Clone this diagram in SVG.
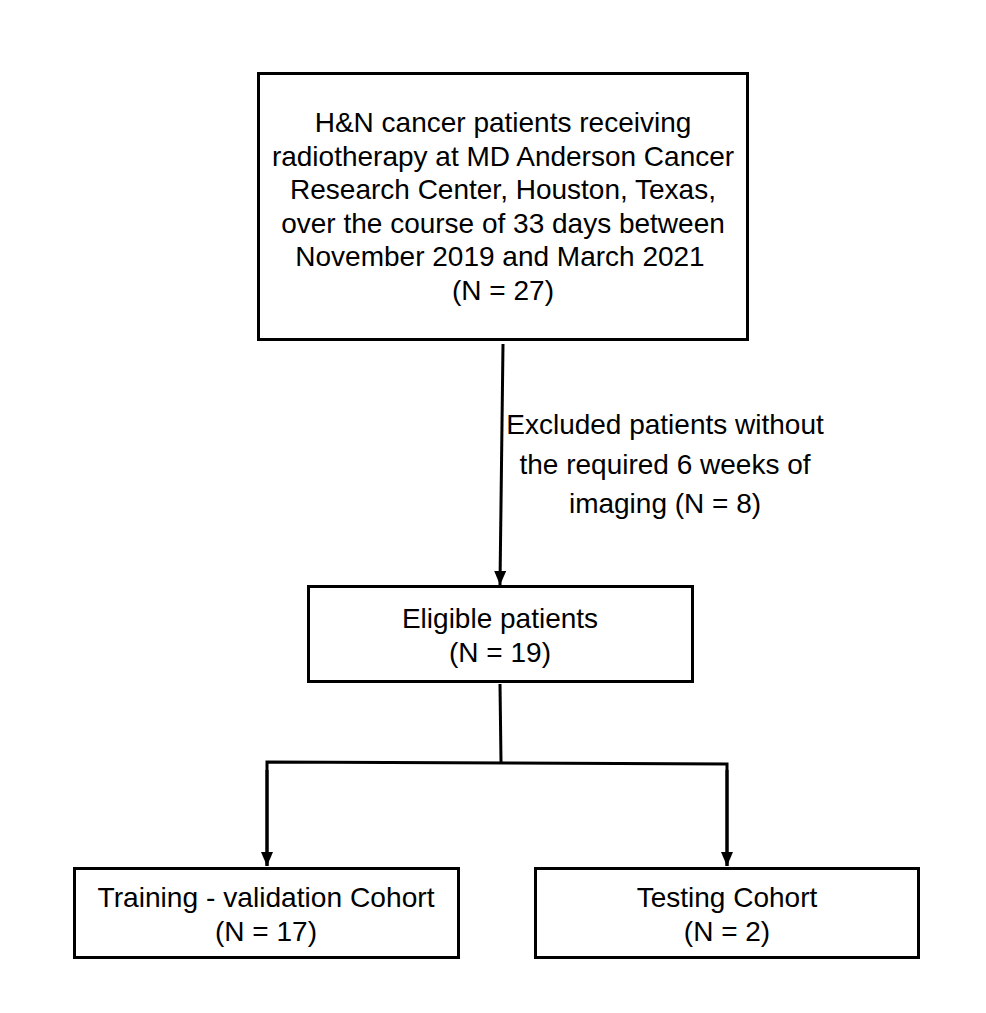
<svg xmlns="http://www.w3.org/2000/svg" width="986" height="1013" viewBox="0 0 986 1013">
<style>
.box{fill:#fff;stroke:#000;stroke-width:3}
.t{font-family:"Liberation Sans",Arial,sans-serif;font-size:28px;fill:#000;text-anchor:middle}
.c{stroke:#000;stroke-width:3;fill:none}
</style>
<defs>
<marker id="ah" viewBox="0 0 14 12" refX="14" refY="6" markerWidth="14" markerHeight="12" markerUnits="userSpaceOnUse" orient="auto">
<path d="M0,0 L14,6 L0,12 z" fill="#000"/>
</marker>
</defs>
<rect width="986" height="1013" fill="#fff"/>
<g id="connectors">
<line class="c" x1="503" y1="344" x2="500" y2="585" marker-end="url(#ah)"/>
<line class="c" x1="500" y1="684" x2="501" y2="762"/>
<polyline class="c" points="267,866 267,762 727,764 727,866"/>
<line class="c" x1="267" y1="770" x2="267" y2="866" marker-end="url(#ah)"/>
<line class="c" x1="727" y1="770" x2="727" y2="866" marker-end="url(#ah)"/>
<g id="label-excluded">
<text class="t" x="665" y="434">Excluded patients without</text>
<text class="t" x="665" y="474">the required 6 weeks of</text>
<text class="t" x="665" y="513">imaging (N = 8)</text>
</g>
</g>
<g id="node-source">
<rect class="box" x="258.5" y="73.5" width="489" height="266"/>
<text class="t" x="503" y="132">H&amp;N cancer patients receiving</text>
<text class="t" x="503" y="166">radiotherapy at MD Anderson Cancer</text>
<text class="t" x="503" y="199">Research Center, Houston, Texas,</text>
<text class="t" x="503" y="233">over the course of 33 days between</text>
<text class="t" x="500" y="266">November 2019 and March 2021</text>
<text class="t" x="503" y="300">(N = 27)</text>
</g>
<g id="node-eligible">
<rect class="box" x="308.5" y="586.5" width="384" height="95"/>
<text class="t" x="500" y="628">Eligible patients</text>
<text class="t" x="500" y="662">(N = 19)</text>
</g>
<g id="node-training">
<rect class="box" x="74.5" y="868.5" width="384" height="89"/>
<text class="t" x="266" y="907" textLength="337" lengthAdjust="spacingAndGlyphs">Training - validation Cohort</text>
<text class="t" x="266" y="941">(N = 17)</text>
</g>
<g id="node-testing">
<rect class="box" x="535.5" y="868.5" width="383" height="89"/>
<text class="t" x="727" y="907">Testing Cohort</text>
<text class="t" x="727" y="941">(N = 2)</text>
</g>
</svg>
